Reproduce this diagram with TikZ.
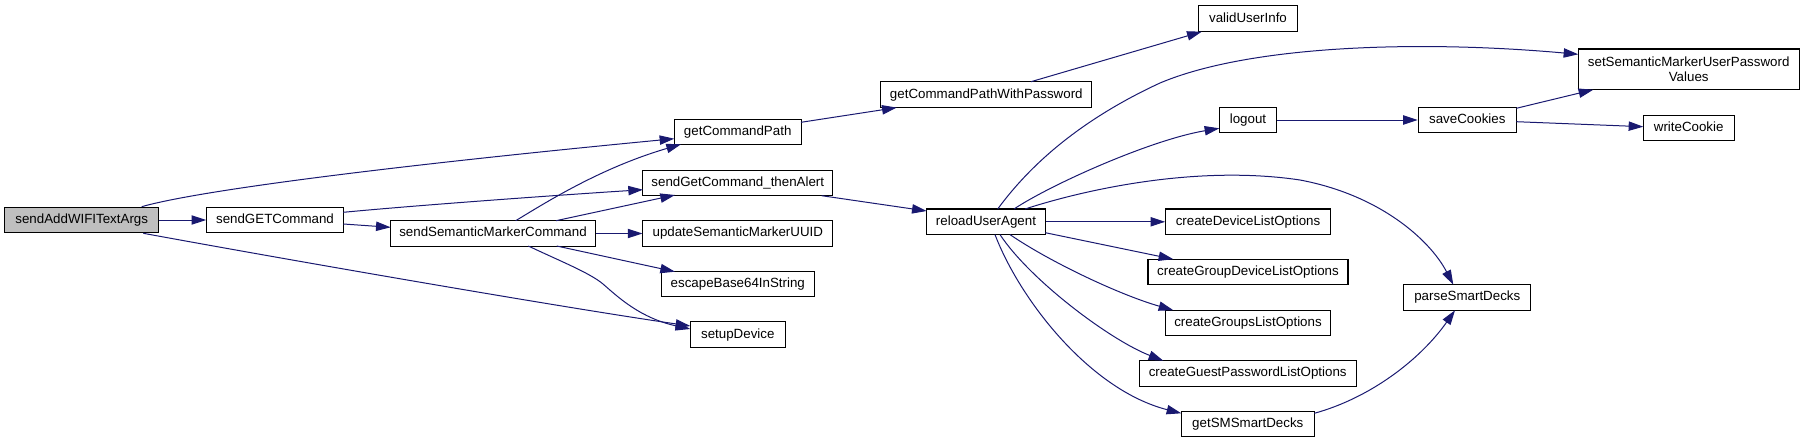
\documentclass[tikz,border=0pt]{standalone}
\usepackage{fontspec}
\setmainfont{Liberation Sans}
\usetikzlibrary{arrows.meta}
\definecolor{edgeblue}{HTML}{191970}
\definecolor{rootgrey}{HTML}{BFBFBF}
\begin{document}
\begin{tikzpicture}[x=0.75pt,y=-0.75pt,
  box/.style={draw=black, line width=0.8pt, fill=white, inner sep=0pt, minimum height=19.2pt, font=\fontsize{10pt}{11.5pt}\selectfont, text=black},
  nd/.style={box, minimum width=#1*0.75pt, text height=7.2pt, text depth=2.1pt},
  conn/.style={draw=edgeblue, line width=0.75pt, -{Triangle[length=11pt,width=7pt]}}]
\useasboundingbox (0,0) rectangle (1804,443);
% nodes
\node[nd=154, fill=rootgrey] (A) at (81.7,220) {sendAddWIFITextArgs};
\node[nd=136.6] (B) at (275,220) {sendGETCommand};
\node[nd=204.6] (C) at (493,233.5) {sendSemanticMarkerCommand};
\node[nd=126.7] (D) at (737.7,132) {getCommandPath};
\node[nd=189.7] (E) at (737.8,183) {sendGetCommand\_thenAlert};
\node[nd=189.7] (F) at (737.8,233.5) {updateSemanticMarkerUUID};
\node[nd=153] (G) at (737.8,284) {escapeBase64InString};
\node[nd=95] (H) at (737.8,334.7) {setupDevice};
\node[nd=211.3] (I) at (986.3,94.7) {getCommandPathWithPassword};
\node[nd=118.6] (J) at (986,221.8) {reloadUserAgent};
\node[nd=98.6] (K) at (1248,18.7) {validUserInfo};
\node[nd=57.4] (L) at (1248,120) {logout};
\node[nd=164.6] (M) at (1248,221.8) {createDeviceListOptions};
\node[nd=200] (N) at (1248,272) {createGroupDeviceListOptions};
\node[nd=165.7] (O) at (1248,323) {createGroupsListOptions};
\node[nd=216.7] (P) at (1247.7,373.5) {createGuestPasswordListOptions};
\node[nd=133] (Q) at (1247.8,424) {getSMSmartDecks};
\node[nd=98] (R) at (1467.3,120) {saveCookies};
\node[nd=126.7] (S) at (1467.3,297.5) {parseSmartDecks};
\node[box, minimum width=220.7*0.75pt, minimum height=30.5pt, align=center] (T) at (1688.7,69.3) {setSemanticMarkerUserPassword\\Values};
\node[nd=90.7] (U) at (1688.7,128) {writeCookie};
% edges
\draw[conn] ([shift={(60,-13.3)}]A.center) .. controls (200,190) and (400,165) .. ([shift={(-63.4,6.7)}]D.center);
\draw[conn] (A.east) -- (B.west);
\draw[conn] ([shift={(61.6,13.3)}]A.center) .. controls (300,262) and (560,307) .. ([shift={(-47.5,-8.7)}]H.center);
\draw[conn] ([shift={(68.3,-7.7)}]B.center) .. controls (420,205) and (560,195) .. ([shift={(-94.8,6.7)}]E.center);
\draw[conn] ([shift={(68.3,4)}]B.center) -- ([shift={(-102.3,-6.2)}]C.center);
\draw[conn] ([shift={(22.7,-12.8)}]C.center) .. controls (545,203) and (600,168) .. ([shift={(-56.7,12.3)}]D.center);
\draw[conn] ([shift={(63,-12.8)}]C.center) -- ([shift={(-62.8,12)}]E.center);
\draw[conn] (C.east) -- (F.west);
\draw[conn] ([shift={(63.7,12.5)}]C.center) -- ([shift={(-62.8,-12.3)}]G.center);
\draw[conn] ([shift={(35.3,12.5)}]C.center) .. controls (560,261) and (590,273) .. (603,284) .. controls (618,297) and (640,318) .. ([shift={(-47.5,-5.7)}]H.center);
\draw[conn] ([shift={(63.3,-9.7)}]D.center) -- ([shift={(-89.6,12.9)}]I.center);
\draw[conn] ([shift={(44.7,-13)}]I.center) -- ([shift={(-46.3,13)}]K.center);
\draw[conn] ([shift={(83.9,12.7)}]E.center) -- ([shift={(-59.3,-10.8)}]J.center);
\draw[conn] ([shift={(11.7,-12.8)}]J.center) .. controls (1030,165) and (1080,120) .. (1160,83) .. controls (1250,45) and (1420,40) .. ([shift={(-110.4,-15)}]T.center);
\draw[conn] ([shift={(28,-12.8)}]J.center) .. controls (1050,185) and (1150,140) .. ([shift={(-28.7,8.3)}]L.center);
\draw[conn] ([shift={(39,-12.8)}]J.center) .. controls (1090,188) and (1200,165) .. (1300,180) .. controls (1380,195) and (1430,240) .. ([shift={(-14,-12.8)}]S.center);
\draw[conn] (J.east) -- (M.west);
\draw[conn] ([shift={(59.3,10.9)}]J.center) -- ([shift={(-74.7,-12.8)}]N.center);
\draw[conn] ([shift={(24,12.8)}]J.center) .. controls (1050,262) and (1120,295) .. ([shift={(-74.7,-12.8)}]O.center);
\draw[conn] ([shift={(14,12.8)}]J.center) .. controls (1030,280) and (1110,340) .. ([shift={(-84.4,-12.8)}]P.center);
\draw[conn] ([shift={(9,12.8)}]J.center) .. controls (1020,300) and (1090,390) .. ([shift={(-66.5,-10.7)}]Q.center);
\draw[conn] (L.east) -- (R.west);
\draw[conn] ([shift={(49,-11.7)}]R.center) -- ([shift={(-95.4,20.4)}]T.center);
\draw[conn] ([shift={(49,1.7)}]R.center) -- ([shift={(-45.4,-1.3)}]U.center);
\draw[conn] ([shift={(66.5,-10.7)}]Q.center) .. controls (1370,398) and (1420,360) .. ([shift={(-12.3,12.8)}]S.center);
\end{tikzpicture}
\end{document}
